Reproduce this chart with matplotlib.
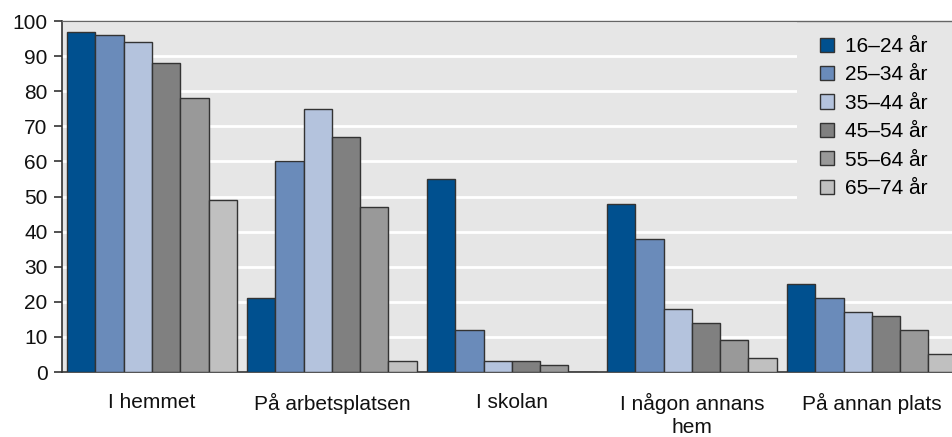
import numpy as np
import matplotlib.pyplot as plt
from matplotlib.patches import Rectangle

plt.rcParams['font.family'] = ['Liberation Sans', 'DejaVu Sans']

# categories and series
places = ["I hemmet", "På arbetsplatsen", "I skolan", "I någon annans\nhem", "På annan plats"]
ages = ["16–24 år", "25–34 år", "35–44 år", "45–54 år", "55–64 år", "65–74 år"]
v16_24 = [97, 21, 55, 48, 25]
v25_34 = [96, 60, 12, 38, 21]
v35_44 = [94, 75, 3, 18, 17]
v45_54 = [88, 67, 3, 14, 16]
v55_64 = [78, 47, 2, 9, 12]
v65_74 = [49, 3, 0, 4, 5]
series = [v16_24, v25_34, v35_44, v45_54, v55_64, v65_74]
colors = ["#00508f", "#6a8bba", "#b4c3dd", "#808080", "#999999", "#c0c0c0"]

fs = 15
bg = "#e6e6e6"

fig = plt.figure(figsize=(9.52, 4.37), dpi=100)
ax = fig.add_axes([62/952, 1-372/437, 1-62/952, (372-21)/437])
ax.set_facecolor(bg)

x = np.arange(len(places))
w = 0.157
for k, vals in enumerate(series):
    ax.bar(x + (k - 2.5)*w, vals, w, color=colors[k], edgecolor="#333333",
           linewidth=1.0, label=ages[k], zorder=3)

ax.set_ylim(0, 100)
ax.set_yticks(range(0, 101, 10))
ax.set_xlim(-0.5, 4.445)
ax.set_xticks(x)
ax.set_xticklabels(places, fontsize=fs, color="#111111", linespacing=1.3)
ax.tick_params(axis='x', length=0, pad=15)
ax.tick_params(axis='y', length=5.5, width=1.2, color="#333333", labelsize=fs,
               labelcolor="#111111", pad=5)
ax.yaxis.grid(True, color="white", linewidth=2, zorder=0)
ax.set_axisbelow(True)

for s in ["left", "bottom"]:
    ax.spines[s].set_color("#333333")
    ax.spines[s].set_linewidth(1.2)
ax.spines["top"].set_color("#666666")
ax.spines["top"].set_linewidth(1.0)
ax.spines["right"].set_visible(False)

leg = ax.legend(loc="upper right", fontsize=fs, frameon=False,
                handlelength=0.67, handleheight=0.67, handletextpad=0.56,
                labelspacing=0.45, borderpad=0.77, borderaxespad=0,
                bbox_to_anchor=(0.991, 1.0))
leg.set_zorder(5)

# legend background reaching the right edge (hides the gridlines there)
fig.canvas.draw()
bb = leg.get_window_extent().transformed(ax.transAxes.inverted())
ax.add_patch(Rectangle((bb.x0 - 0.008, bb.y0), 1.01 - bb.x0, 1 - bb.y0,
                       transform=ax.transAxes, facecolor=bg, edgecolor="none",
                       zorder=1, clip_on=True))

fig.savefig("out.png", dpi=100)
